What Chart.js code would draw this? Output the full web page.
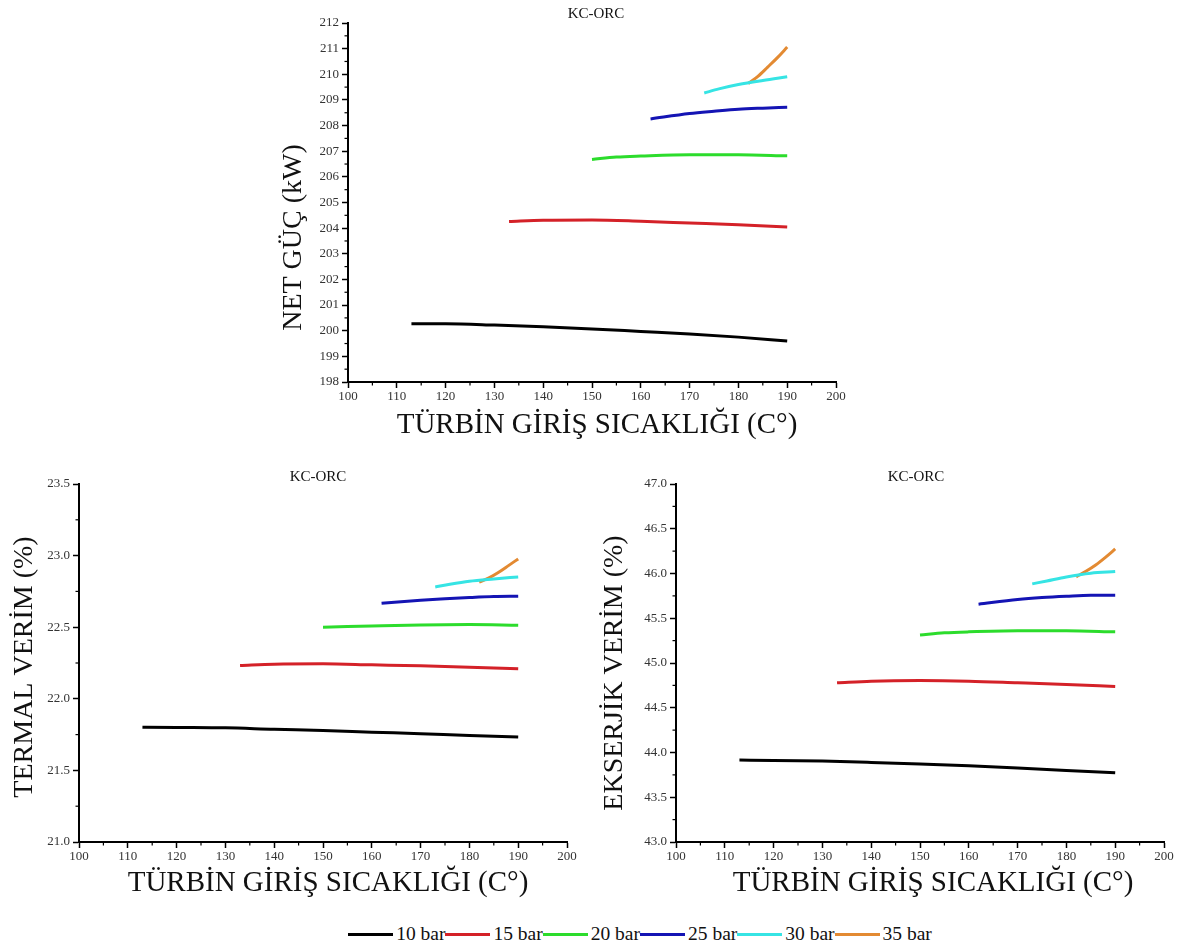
<!DOCTYPE html>
<html><head><meta charset="utf-8">
<script src="https://cdn.jsdelivr.net/npm/chart.js@4.4.1/dist/chart.umd.min.js"></script>
<style>
html,body{margin:0;padding:0;background:#fff;width:1182px;height:944px;overflow:hidden;}
canvas{position:absolute;}
#legend{position:absolute;top:921px;left:98px;width:1084px;height:26px;display:flex;justify-content:center;align-items:center;font-family:'Liberation Serif','Times New Roman',serif;font-size:19.5px;color:#111;}
.item{display:flex;align-items:center;}
.sw{width:45px;height:3px;margin-right:3px;}
</style></head><body>
<canvas id="c1" width="620" height="460" style="left:250px;top:0px"></canvas>
<canvas id="c2" width="590" height="440" style="left:0px;top:460px"></canvas>
<canvas id="c3" width="592" height="440" style="left:590px;top:460px"></canvas>
<div id="legend"></div>
<script>
// ---- data ----
const seriesNames = ['10 bar','15 bar','20 bar','25 bar','30 bar','35 bar'];
const seriesColors = ['#000000','#d42128','#2cdc2c','#1414b4','#36e4e4','#e38a32'];

// turbine inlet temperature (°C) per series
const x10 = [113,120,130,140,150,160,170,180,190];
const x15 = [133,140,150,160,170,180,190];
const x20 = [150,155,160,170,180,190];
const x25 = [162,170,175,180,185,190];
const x30 = [173,176,180,185,190];
const x35 = [182,184,186,188,190];

// net power (kW)
const p10 = [200.27,200.27,200.22,200.15,200.07,199.97,199.87,199.75,199.60];
const p15 = [204.26,204.31,204.32,204.27,204.20,204.13,204.04];
const p20 = [206.68,206.77,206.81,206.86,206.86,206.82];
const p25 = [208.26,208.47,208.56,208.64,208.68,208.71];
const p30 = [209.27,209.43,209.60,209.76,209.90];
const p35 = [209.64,209.92,210.28,210.65,211.06];

// thermal efficiency (%)
const t10 = [21.802,21.800,21.797,21.787,21.779,21.767,21.756,21.743,21.733];
const t15 = [22.233,22.242,22.244,22.237,22.230,22.221,22.209];
const t20 = [22.500,22.505,22.509,22.516,22.519,22.514];
const t25 = [22.667,22.688,22.698,22.707,22.714,22.716];
const t30 = [22.781,22.800,22.821,22.837,22.851];
const t35 = [22.814,22.844,22.884,22.930,22.977];

// exergy efficiency (%)
const e10 = [43.915,43.912,43.904,43.889,43.871,43.852,43.826,43.800,43.774];
const e15 = [44.779,44.797,44.804,44.797,44.779,44.760,44.738];
const e20 = [45.314,45.337,45.348,45.359,45.359,45.348];
const e25 = [45.657,45.709,45.731,45.746,45.757,45.757];
const e30 = [45.884,45.917,45.962,46.003,46.021];
const e35 = [45.962,46.025,46.096,46.181,46.274];

// tick labels
const xTicks = [100,110,120,130,140,150,160,170,180,190,200];
const netTicks = [198,199,200,201,202,203,204,205,206,207,208,209,210,211,212];
const thermTicks = [21.0,21.5,22.0,22.5,23.0,23.5];
const exTicks = [43.0,43.5,44.0,44.5,45.0,45.5,46.0,46.5,47.0];

const chartTitle = 'KC-ORC';
const xTitle = 'TÜRBİN GİRİŞ SICAKLIĞI (C°)';
const netTitle = 'NET GÜÇ (kW)';
const thermTitle = 'TERMAL VERİM (%)';
const exTitle = 'EKSERJİK VERİM (%)';

// ---- helpers ----
const SERIF = "'Liberation Serif','Times New Roman',serif";
const xsAll = [x10,x15,x20,x25,x30,x35];

function buildDatasets(ys){
  return ys.map((arr,i)=>({
    label: seriesNames[i],
    data: xsAll[i].map((x,j)=>({x:x, y:arr[j]})),
    borderColor: seriesColors[i],
    backgroundColor: seriesColors[i],
    borderWidth: 3,
    pointRadius: 0,
    fill: false,
    cubicInterpolationMode: 'monotone',
    borderCapStyle: 'butt'
  }));
}

const minorTicks = {
  id: 'minorTicks',
  afterDraw(chart, args, opts){
    const ctx = chart.ctx;
    ctx.save();
    ctx.strokeStyle = '#000';
    ctx.lineWidth = 1.2;
    const xs = chart.scales.x, ys = chart.scales.y;
    const ca = chart.chartArea;
    const xm = xs.ticks.map(t=>t.value), ym = ys.ticks.map(t=>t.value);
    for (let v = xs.min; v <= xs.max + 1e-9; v += opts.x){
      if (xm.some(m=>Math.abs(m-v)<1e-6)) continue;
      const px = xs.getPixelForValue(v);
      ctx.beginPath(); ctx.moveTo(px, ca.bottom); ctx.lineTo(px, ca.bottom+3.5); ctx.stroke();
    }
    for (let v = ys.min; v <= ys.max + 1e-9; v += opts.y){
      if (ym.some(m=>Math.abs(m-v)<1e-6)) continue;
      const py = ys.getPixelForValue(v);
      ctx.beginPath(); ctx.moveTo(ca.left, py); ctx.lineTo(ca.left-3.5, py); ctx.stroke();
    }
    ctx.restore();
  }
};

const titles = {
  id: 'titles',
  afterDraw(chart, args, o){
    const ctx = chart.ctx, ca = chart.chartArea;
    const cx = (ca.left+ca.right)/2, cy = (ca.top+ca.bottom)/2;
    ctx.save();
    ctx.fillStyle = '#111';
    ctx.textAlign = 'center';
    ctx.textBaseline = 'middle';
    ctx.font = '15px ' + SERIF;
    ctx.fillText(o.title, cx + o.tdx, ca.top + o.tdy);
    ctx.font = '29px ' + SERIF;
    ctx.fillText(o.xTitle, cx + o.xdx, ca.bottom + o.xdy);
    ctx.font = '28px ' + SERIF;
    ctx.translate(ca.left + o.ydx, cy + o.ydy);
    ctx.rotate(-Math.PI/2);
    ctx.fillText(o.yTitle, 0, 0);
    ctx.restore();
  }
};

function makeChart(id, ys, cfg){
  const tickFont = {family: SERIF, size: 13};
  new Chart(document.getElementById(id), {
    type: 'line',
    data: { datasets: buildDatasets(ys) },
    options: {
      responsive: false,
      animation: false,
      events: [],
      layout: { padding: cfg.padding },
      plugins: {
        legend: {display:false},
        tooltip: {enabled:false},
        minorTicks: {x: 5, y: cfg.minorY},
        titles: cfg.titles
      },
      scales: {
        x: {
          type: 'linear', min: 100, max: 200,
          afterBuildTicks: s => { s.ticks = xTicks.map(v=>({value:v})); },
          afterFit: s => { s.height = cfg.xHeight; },
          ticks: {font: tickFont, color:'#333', padding: 1, maxRotation: 0, autoSkip: false, callback: v => String(v)},
          grid: {drawOnChartArea:false, drawTicks:true, tickLength:6, tickColor:'#000', tickWidth:1.5},
          border: {color:'#000', width:2}
        },
        y: {
          type: 'linear', min: cfg.yTicks[0], max: cfg.yTicks[cfg.yTicks.length-1],
          afterBuildTicks: s => { s.ticks = cfg.yTicks.map(v=>({value:v})); },
          afterFit: s => { s.width = cfg.yWidth; },
          ticks: {font: {family: SERIF, size: 13}, color:'#333', padding: 3, autoSkip:false, callback: v => cfg.dec ? Number(v).toFixed(1) : String(v)},
          grid: {drawOnChartArea:false, drawTicks:true, tickLength:6, tickColor:'#000', tickWidth:1.5},
          border: {color:'#000', width:2}
        }
      }
    },
    plugins: [minorTicks, titles]
  });
}

makeChart('c1', [p10,p15,p20,p25,p30,p35], {
  padding: {top:23, right:34, bottom:0, left:0},
  yWidth: 98, xHeight: 78, yTicks: netTicks, dec: false, minorY: 0.5,
  titles: {title: chartTitle, tdx: 4, tdy: -9, xTitle: xTitle, xdx: 5, xdy: 43, yTitle: netTitle, ydx: -54, ydy: 35}
});
makeChart('c2', [t10,t15,t20,t25,t30,t35], {
  padding: {top:24, right:23, bottom:0, left:0},
  yWidth: 79, xHeight: 58, yTicks: thermTicks, dec: true, minorY: 0.25,
  titles: {title: chartTitle, tdx: -5, tdy: -7, xTitle: xTitle, xdx: 5, xdy: 41, yTitle: thermTitle, ydx: -54, ydy: 4}
});
makeChart('c3', [e10,e15,e20,e25,e30,e35], {
  padding: {top:24, right:18, bottom:0, left:0},
  yWidth: 86, xHeight: 58, yTicks: exTicks, dec: true, minorY: 0.25,
  titles: {title: chartTitle, tdx: -4, tdy: -7, xTitle: xTitle, xdx: 13, xdy: 41, yTitle: exTitle, ydx: -61, ydy: 10}
});

// legend
const lg = document.getElementById('legend');
seriesNames.forEach((n,i)=>{
  const it = document.createElement('div'); it.className='item';
  const sw = document.createElement('div'); sw.className='sw'; sw.style.background = seriesColors[i];
  const tx = document.createElement('span'); tx.textContent = n;
  it.appendChild(sw); it.appendChild(tx); lg.appendChild(it);
});
</script>
</body></html>
